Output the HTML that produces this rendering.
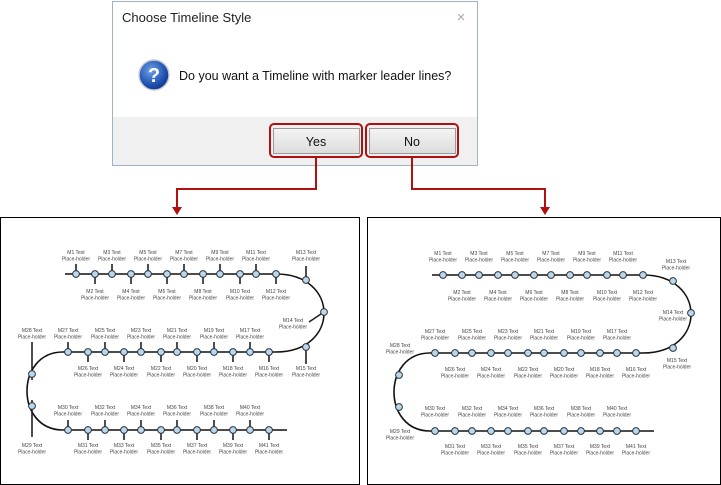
<!DOCTYPE html>
<html><head><meta charset="utf-8"><style>
html,body{margin:0;padding:0;background:#fff;}
svg{display:block;}
.l{font-family:"Liberation Sans",sans-serif;font-size:5px;fill:#444;text-anchor:middle;}
</style></head><body>
<svg width="721" height="485" viewBox="0 0 721 485" xmlns="http://www.w3.org/2000/svg">
<defs>
<linearGradient id="btn" x1="0" y1="0" x2="0" y2="1"><stop offset="0" stop-color="#f4f4f4"/><stop offset="1" stop-color="#dcdcdc"/></linearGradient>
<radialGradient id="q" cx="0.4" cy="0.35" r="0.7"><stop offset="0" stop-color="#6fa0e8"/><stop offset="0.7" stop-color="#1d4fb0"/><stop offset="1" stop-color="#15357a"/></radialGradient>
<g id="m"><circle r="3.4" fill="#bcd6ea" stroke="#2a3440" stroke-width="1"/></g>
</defs>

<!-- Dialog -->
<rect x="112.5" y="1.5" width="365" height="164" fill="#fff" stroke="#9fb2c8"/>
<rect x="113" y="117" width="364" height="48" fill="#f0f0f0"/>
<text x="122" y="22" font-family="Liberation Sans,sans-serif" font-size="13" fill="#222">Choose Timeline Style</text>
<text x="461" y="22" font-family="Liberation Sans,sans-serif" font-size="15" fill="#aaa" text-anchor="middle">×</text>
<circle cx="154" cy="75" r="15" fill="url(#q)" stroke="#c8ccd4" stroke-width="1.5"/>
<text x="154" y="82" font-family="Liberation Sans,sans-serif" font-size="20" font-weight="bold" fill="#fff" text-anchor="middle">?</text>
<text x="179" y="80" font-family="Liberation Sans,sans-serif" font-size="12.5" fill="#111">Do you want a Timeline with marker leader lines?</text>
<rect x="273.5" y="128.5" width="86" height="25" fill="url(#btn)" stroke="#9a9a9a"/>
<rect x="369.5" y="128.5" width="86" height="25" fill="url(#btn)" stroke="#9a9a9a"/>
<text x="316" y="146" font-family="Liberation Sans,sans-serif" font-size="12.5" fill="#111" text-anchor="middle">Yes</text>
<text x="412" y="146" font-family="Liberation Sans,sans-serif" font-size="12.5" fill="#111" text-anchor="middle">No</text>
<rect x="270" y="124" width="92" height="33" rx="4" fill="none" stroke="#b01010" stroke-width="2"/>
<rect x="366" y="124" width="92" height="33" rx="4" fill="none" stroke="#b01010" stroke-width="2"/>

<!-- connectors -->
<polyline points="316,157 316,189 177,189 177,208" fill="none" stroke="#b01010" stroke-width="2"/>
<polygon points="172,207 182,207 177,215" fill="#b01010"/>
<polyline points="412,157 412,189 545,189 545,208" fill="none" stroke="#b01010" stroke-width="2"/>
<polygon points="540,207 550,207 545,215" fill="#b01010"/>

<!-- panels -->
<rect x="0.5" y="217.5" width="359" height="267" fill="#fff" stroke="#000"/>
<rect x="367.5" y="217.5" width="353" height="267" fill="#fff" stroke="#000"/>

<!-- LEFT PANEL -->
<g>
<path d="M65,274 L276,274 C340,274 340,352 276,352 L63,352 C15,352 15,430 63,430 L287,430" fill="none" stroke="#111" stroke-width="1.6"/>
<g stroke="#222" stroke-width="1.6">
<line x1="76" y1="264" x2="76" y2="274"/><line x1="95" y1="274" x2="95" y2="284"/>
<line x1="112" y1="264" x2="112" y2="274"/><line x1="131" y1="274" x2="131" y2="284"/>
<line x1="148" y1="264" x2="148" y2="274"/><line x1="167" y1="274" x2="167" y2="284"/>
<line x1="184" y1="264" x2="184" y2="274"/><line x1="203" y1="274" x2="203" y2="284"/>
<line x1="220" y1="264" x2="220" y2="274"/><line x1="240" y1="274" x2="240" y2="284"/>
<line x1="256" y1="264" x2="256" y2="274"/><line x1="276" y1="274" x2="276" y2="284"/>
<line x1="68" y1="342" x2="68" y2="352"/><line x1="88" y1="352" x2="88" y2="362"/>
<line x1="105" y1="342" x2="105" y2="352"/><line x1="124" y1="352" x2="124" y2="362"/>
<line x1="141" y1="342" x2="141" y2="352"/><line x1="161" y1="352" x2="161" y2="362"/>
<line x1="177" y1="342" x2="177" y2="352"/><line x1="197" y1="352" x2="197" y2="362"/>
<line x1="214" y1="342" x2="214" y2="352"/><line x1="233" y1="352" x2="233" y2="362"/>
<line x1="250" y1="342" x2="250" y2="352"/><line x1="269" y1="352" x2="269" y2="362"/>
<line x1="68" y1="420" x2="68" y2="430"/><line x1="88" y1="430" x2="88" y2="440"/>
<line x1="105" y1="420" x2="105" y2="430"/><line x1="124" y1="430" x2="124" y2="440"/>
<line x1="141" y1="420" x2="141" y2="430"/><line x1="161" y1="430" x2="161" y2="440"/>
<line x1="177" y1="420" x2="177" y2="430"/><line x1="197" y1="430" x2="197" y2="440"/>
<line x1="214" y1="420" x2="214" y2="430"/><line x1="233" y1="430" x2="233" y2="440"/>
<line x1="250" y1="420" x2="250" y2="430"/><line x1="269" y1="430" x2="269" y2="440"/>
<line x1="306" y1="266" x2="306" y2="280"/>
<line x1="324" y1="312" x2="309" y2="322"/>
<line x1="306" y1="347" x2="306" y2="364"/>
<line x1="32" y1="342" x2="32" y2="380"/>
<line x1="32" y1="400" x2="32" y2="437"/>
</g>
<g>
<use href="#m" x="76" y="274"/><use href="#m" x="95" y="274"/><use href="#m" x="112" y="274"/><use href="#m" x="131" y="274"/><use href="#m" x="148" y="274"/><use href="#m" x="167" y="274"/><use href="#m" x="184" y="274"/><use href="#m" x="203" y="274"/><use href="#m" x="220" y="274"/><use href="#m" x="240" y="274"/><use href="#m" x="256" y="274"/><use href="#m" x="276" y="274"/>
<use href="#m" x="68" y="352"/><use href="#m" x="88" y="352"/><use href="#m" x="105" y="352"/><use href="#m" x="124" y="352"/><use href="#m" x="141" y="352"/><use href="#m" x="161" y="352"/><use href="#m" x="177" y="352"/><use href="#m" x="197" y="352"/><use href="#m" x="214" y="352"/><use href="#m" x="233" y="352"/><use href="#m" x="250" y="352"/><use href="#m" x="269" y="352"/>
<use href="#m" x="68" y="430"/><use href="#m" x="88" y="430"/><use href="#m" x="105" y="430"/><use href="#m" x="124" y="430"/><use href="#m" x="141" y="430"/><use href="#m" x="161" y="430"/><use href="#m" x="177" y="430"/><use href="#m" x="197" y="430"/><use href="#m" x="214" y="430"/><use href="#m" x="233" y="430"/><use href="#m" x="250" y="430"/><use href="#m" x="269" y="430"/>
<use href="#m" x="306" y="280"/><use href="#m" x="324" y="312"/><use href="#m" x="306" y="347"/><use href="#m" x="32" y="374"/><use href="#m" x="32" y="406"/>
</g>
<g class="l">
<text x="76" y="254">M1 Text<tspan x="76" dy="6.5">Place-holder</tspan></text>
<text x="112" y="254">M3 Text<tspan x="112" dy="6.5">Place-holder</tspan></text>
<text x="148" y="254">M5 Text<tspan x="148" dy="6.5">Place-holder</tspan></text>
<text x="184" y="254">M7 Text<tspan x="184" dy="6.5">Place-holder</tspan></text>
<text x="220" y="254">M9 Text<tspan x="220" dy="6.5">Place-holder</tspan></text>
<text x="256" y="254">M11 Text<tspan x="256" dy="6.5">Place-holder</tspan></text>
<text x="95" y="293">M2 Text<tspan x="95" dy="6.5">Place-holder</tspan></text>
<text x="131" y="293">M4 Text<tspan x="131" dy="6.5">Place-holder</tspan></text>
<text x="167" y="293">M6 Text<tspan x="167" dy="6.5">Place-holder</tspan></text>
<text x="203" y="293">M8 Text<tspan x="203" dy="6.5">Place-holder</tspan></text>
<text x="240" y="293">M10 Text<tspan x="240" dy="6.5">Place-holder</tspan></text>
<text x="276" y="293">M12 Text<tspan x="276" dy="6.5">Place-holder</tspan></text>
<text x="68" y="332">M27 Text<tspan x="68" dy="6.5">Place-holder</tspan></text>
<text x="105" y="332">M25 Text<tspan x="105" dy="6.5">Place-holder</tspan></text>
<text x="141" y="332">M23 Text<tspan x="141" dy="6.5">Place-holder</tspan></text>
<text x="177" y="332">M21 Text<tspan x="177" dy="6.5">Place-holder</tspan></text>
<text x="214" y="332">M19 Text<tspan x="214" dy="6.5">Place-holder</tspan></text>
<text x="250" y="332">M17 Text<tspan x="250" dy="6.5">Place-holder</tspan></text>
<text x="88" y="370">M26 Text<tspan x="88" dy="6.5">Place-holder</tspan></text>
<text x="124" y="370">M24 Text<tspan x="124" dy="6.5">Place-holder</tspan></text>
<text x="161" y="370">M22 Text<tspan x="161" dy="6.5">Place-holder</tspan></text>
<text x="197" y="370">M20 Text<tspan x="197" dy="6.5">Place-holder</tspan></text>
<text x="233" y="370">M18 Text<tspan x="233" dy="6.5">Place-holder</tspan></text>
<text x="269" y="370">M16 Text<tspan x="269" dy="6.5">Place-holder</tspan></text>
<text x="68" y="409">M30 Text<tspan x="68" dy="6.5">Place-holder</tspan></text>
<text x="105" y="409">M32 Text<tspan x="105" dy="6.5">Place-holder</tspan></text>
<text x="141" y="409">M34 Text<tspan x="141" dy="6.5">Place-holder</tspan></text>
<text x="177" y="409">M36 Text<tspan x="177" dy="6.5">Place-holder</tspan></text>
<text x="214" y="409">M38 Text<tspan x="214" dy="6.5">Place-holder</tspan></text>
<text x="250" y="409">M40 Text<tspan x="250" dy="6.5">Place-holder</tspan></text>
<text x="88" y="447">M31 Text<tspan x="88" dy="6.5">Place-holder</tspan></text>
<text x="124" y="447">M33 Text<tspan x="124" dy="6.5">Place-holder</tspan></text>
<text x="161" y="447">M35 Text<tspan x="161" dy="6.5">Place-holder</tspan></text>
<text x="197" y="447">M37 Text<tspan x="197" dy="6.5">Place-holder</tspan></text>
<text x="233" y="447">M39 Text<tspan x="233" dy="6.5">Place-holder</tspan></text>
<text x="269" y="447">M41 Text<tspan x="269" dy="6.5">Place-holder</tspan></text>
<text x="306" y="254">M13 Text<tspan x="306" dy="6.5">Place-holder</tspan></text>
<text x="293" y="322">M14 Text<tspan x="293" dy="6.5">Place-holder</tspan></text>
<text x="306" y="370">M15 Text<tspan x="306" dy="6.5">Place-holder</tspan></text>
<text x="32" y="332">M28 Text<tspan x="32" dy="6.5">Place-holder</tspan></text>
<text x="32" y="447">M29 Text<tspan x="32" dy="6.5">Place-holder</tspan></text>
</g>
</g>

<!-- RIGHT PANEL -->
<g transform="translate(367,1)">
<path d="M65,274 L276,274 C340,274 340,352 276,352 L63,352 C15,352 15,430 63,430 L287,430" fill="none" stroke="#111" stroke-width="1.6"/>
<g>
<use href="#m" x="76" y="274"/><use href="#m" x="95" y="274"/><use href="#m" x="112" y="274"/><use href="#m" x="131" y="274"/><use href="#m" x="148" y="274"/><use href="#m" x="167" y="274"/><use href="#m" x="184" y="274"/><use href="#m" x="203" y="274"/><use href="#m" x="220" y="274"/><use href="#m" x="240" y="274"/><use href="#m" x="256" y="274"/><use href="#m" x="276" y="274"/>
<use href="#m" x="68" y="352"/><use href="#m" x="88" y="352"/><use href="#m" x="105" y="352"/><use href="#m" x="124" y="352"/><use href="#m" x="141" y="352"/><use href="#m" x="161" y="352"/><use href="#m" x="177" y="352"/><use href="#m" x="197" y="352"/><use href="#m" x="214" y="352"/><use href="#m" x="233" y="352"/><use href="#m" x="250" y="352"/><use href="#m" x="269" y="352"/>
<use href="#m" x="68" y="430"/><use href="#m" x="88" y="430"/><use href="#m" x="105" y="430"/><use href="#m" x="124" y="430"/><use href="#m" x="141" y="430"/><use href="#m" x="161" y="430"/><use href="#m" x="177" y="430"/><use href="#m" x="197" y="430"/><use href="#m" x="214" y="430"/><use href="#m" x="233" y="430"/><use href="#m" x="250" y="430"/><use href="#m" x="269" y="430"/>
<use href="#m" x="306" y="280"/><use href="#m" x="324" y="312"/><use href="#m" x="306" y="347"/><use href="#m" x="32" y="374"/><use href="#m" x="32" y="406"/>
</g>
<g class="l">
<text x="76" y="254">M1 Text<tspan x="76" dy="6.5">Place-holder</tspan></text>
<text x="112" y="254">M3 Text<tspan x="112" dy="6.5">Place-holder</tspan></text>
<text x="148" y="254">M5 Text<tspan x="148" dy="6.5">Place-holder</tspan></text>
<text x="184" y="254">M7 Text<tspan x="184" dy="6.5">Place-holder</tspan></text>
<text x="220" y="254">M9 Text<tspan x="220" dy="6.5">Place-holder</tspan></text>
<text x="256" y="254">M11 Text<tspan x="256" dy="6.5">Place-holder</tspan></text>
<text x="95" y="293">M2 Text<tspan x="95" dy="6.5">Place-holder</tspan></text>
<text x="131" y="293">M4 Text<tspan x="131" dy="6.5">Place-holder</tspan></text>
<text x="167" y="293">M6 Text<tspan x="167" dy="6.5">Place-holder</tspan></text>
<text x="203" y="293">M8 Text<tspan x="203" dy="6.5">Place-holder</tspan></text>
<text x="240" y="293">M10 Text<tspan x="240" dy="6.5">Place-holder</tspan></text>
<text x="276" y="293">M12 Text<tspan x="276" dy="6.5">Place-holder</tspan></text>
<text x="68" y="332">M27 Text<tspan x="68" dy="6.5">Place-holder</tspan></text>
<text x="105" y="332">M25 Text<tspan x="105" dy="6.5">Place-holder</tspan></text>
<text x="141" y="332">M23 Text<tspan x="141" dy="6.5">Place-holder</tspan></text>
<text x="177" y="332">M21 Text<tspan x="177" dy="6.5">Place-holder</tspan></text>
<text x="214" y="332">M19 Text<tspan x="214" dy="6.5">Place-holder</tspan></text>
<text x="250" y="332">M17 Text<tspan x="250" dy="6.5">Place-holder</tspan></text>
<text x="88" y="370">M26 Text<tspan x="88" dy="6.5">Place-holder</tspan></text>
<text x="124" y="370">M24 Text<tspan x="124" dy="6.5">Place-holder</tspan></text>
<text x="161" y="370">M22 Text<tspan x="161" dy="6.5">Place-holder</tspan></text>
<text x="197" y="370">M20 Text<tspan x="197" dy="6.5">Place-holder</tspan></text>
<text x="233" y="370">M18 Text<tspan x="233" dy="6.5">Place-holder</tspan></text>
<text x="269" y="370">M16 Text<tspan x="269" dy="6.5">Place-holder</tspan></text>
<text x="68" y="409">M30 Text<tspan x="68" dy="6.5">Place-holder</tspan></text>
<text x="105" y="409">M32 Text<tspan x="105" dy="6.5">Place-holder</tspan></text>
<text x="141" y="409">M34 Text<tspan x="141" dy="6.5">Place-holder</tspan></text>
<text x="177" y="409">M36 Text<tspan x="177" dy="6.5">Place-holder</tspan></text>
<text x="214" y="409">M38 Text<tspan x="214" dy="6.5">Place-holder</tspan></text>
<text x="250" y="409">M40 Text<tspan x="250" dy="6.5">Place-holder</tspan></text>
<text x="88" y="447">M31 Text<tspan x="88" dy="6.5">Place-holder</tspan></text>
<text x="124" y="447">M33 Text<tspan x="124" dy="6.5">Place-holder</tspan></text>
<text x="161" y="447">M35 Text<tspan x="161" dy="6.5">Place-holder</tspan></text>
<text x="197" y="447">M37 Text<tspan x="197" dy="6.5">Place-holder</tspan></text>
<text x="233" y="447">M39 Text<tspan x="233" dy="6.5">Place-holder</tspan></text>
<text x="269" y="447">M41 Text<tspan x="269" dy="6.5">Place-holder</tspan></text>
<text x="309" y="262">M13 Text<tspan x="309" dy="6.5">Place-holder</tspan></text>
<text x="306" y="313">M14 Text<tspan x="306" dy="6.5">Place-holder</tspan></text>
<text x="310" y="361">M15 Text<tspan x="310" dy="6.5">Place-holder</tspan></text>
<text x="33" y="346">M28 Text<tspan x="33" dy="6.5">Place-holder</tspan></text>
<text x="33" y="432">M29 Text<tspan x="33" dy="6.5">Place-holder</tspan></text>
</g>
</g>
</svg>
</body></html>
